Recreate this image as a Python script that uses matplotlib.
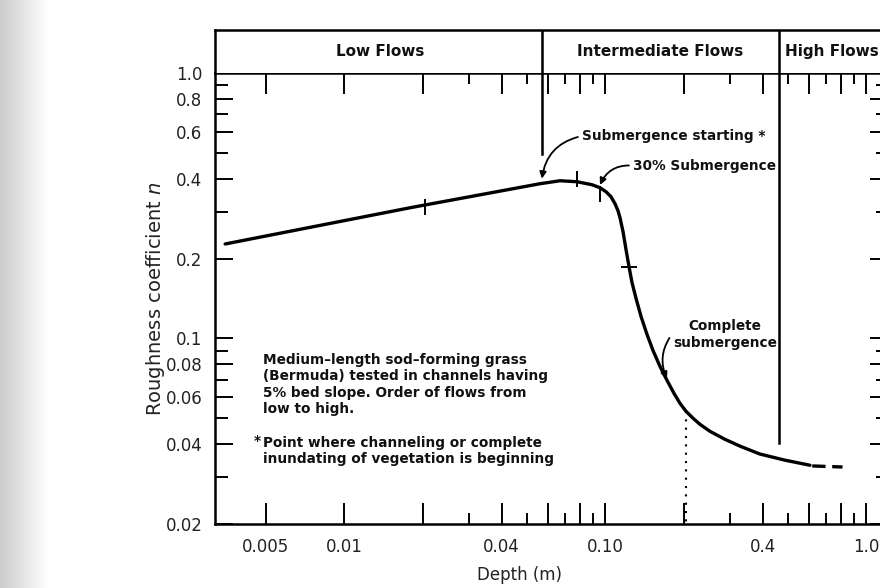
import numpy as np
import matplotlib
matplotlib.use("Agg")
import matplotlib.pyplot as plt
from matplotlib.ticker import FixedLocator, FixedFormatter, NullFormatter

# curve (depth in m, roughness n)
depth = [0.00349, 0.0179, 0.0561, 0.0670, 0.0778, 0.0888, 0.0953, 0.1005, 0.1050,
         0.1088, 0.1117, 0.1137, 0.1168, 0.1199, 0.1231, 0.1264, 0.1310, 0.1369,
         0.1443, 0.1521, 0.1618, 0.1721, 0.1830, 0.1930, 0.2035, 0.2164, 0.2302,
         0.2515, 0.2871, 0.3278, 0.3909, 0.4874, 0.6078]
rough = [0.227, 0.311, 0.3828, 0.3928, 0.3895, 0.3795, 0.3698, 0.3572, 0.3420,
         0.3220, 0.3030, 0.2851, 0.2526, 0.2162, 0.1866, 0.1625, 0.1415, 0.1211,
         0.1036, 0.0902, 0.0785, 0.0696, 0.0622, 0.0570, 0.0532, 0.0501, 0.0475,
         0.0447, 0.0417, 0.0393, 0.0367, 0.0348, 0.0333]
ext_depth = [0.62, 0.81]
ext_rough = [0.0331, 0.0328]

# small cross marks drawn on the curve
vmark_x = [0.0204, 0.0778, 0.0953]
vmark_y = [0.313, 0.40, 0.351]
hmark_x = [0.1231]
hmark_y = [0.1866]

# flow regime boundaries (depth) and how far down they reach (n)
regime_labels = ["Low Flows", "Intermediate Flows", "High Flows"]
regime_label_x = [0.01368, 0.1618, 0.487]
regime_bounds = [0.0571, 0.462]
bound_bottom = [0.497, 0.0403]

x_major = [0.005, 0.01, 0.02, 0.04, 0.06, 0.08, 0.1, 0.2, 0.4, 0.6, 0.8, 1.0]
x_labels = ["0.005", "0.01", "", "0.04", "", "", "0.10", "", "0.4", "", "", "1.0"]
x_minor = [0.03, 0.05, 0.07, 0.09, 0.3, 0.5, 0.7, 0.9]
y_major = [0.02, 0.04, 0.06, 0.08, 0.1, 0.2, 0.4, 0.6, 0.8, 1.0]
y_labels = ["0.02", "0.04", "0.06", "0.08", "0.1", "0.2", "0.4", "0.6", "0.8", "1.0"]
y_minor = [0.03, 0.05, 0.07, 0.09, 0.3, 0.5, 0.7, 0.9]

plt.rcParams["font.family"] = "DejaVu Sans"

fig = plt.figure(figsize=(8.8, 5.88), dpi=100)

# faint scanner shadow on the left edge
bg = fig.add_axes([0, 0, 0.055, 1])
bg.imshow(np.linspace(0.80, 1.0, 50)[None, :], cmap="gray", vmin=0, vmax=1,
          aspect="auto", extent=[0, 1, 0, 1])
bg.axis("off")

ax = fig.add_axes([0.2443, 0.1088, 0.7648, 0.767])
ax.set_xscale("log")
ax.set_yscale("log")
ax.set_xlim(0.00319, 1.21)
ax.set_ylim(0.02, 1.0)

ax.plot(depth, rough, color="black", lw=2.4, solid_capstyle="round",
        solid_joinstyle="round")
ax.plot(ext_depth, ext_rough, color="black", lw=2.4, dashes=(4, 2))
ax.plot(vmark_x, vmark_y, ls="none", marker="|", ms=12, mew=1.4, color="black")
ax.plot(hmark_x, hmark_y, ls="none", marker="_", ms=11, mew=1.4, color="black")
ax.plot([0.2035, 0.2035], [0.0532, 0.02], color="black", lw=1.5, ls=(0, (1, 3)))

for xb, yb in zip(regime_bounds, bound_bottom):
    ax.plot([xb, xb], [1.0, yb], color="black", lw=1.8)

ax.xaxis.set_major_locator(FixedLocator(x_major))
ax.xaxis.set_major_formatter(FixedFormatter(x_labels))
ax.xaxis.set_minor_locator(FixedLocator(x_minor))
ax.xaxis.set_minor_formatter(NullFormatter())
ax.yaxis.set_major_locator(FixedLocator(y_major))
ax.yaxis.set_major_formatter(FixedFormatter(y_labels))
ax.yaxis.set_minor_locator(FixedLocator(y_minor))
ax.yaxis.set_minor_formatter(NullFormatter())
ax.tick_params(which="both", direction="in", top=True, right=True, width=1.4,
               labelsize=12, labelcolor="#222222")
ax.tick_params(axis="x", which="major", length=15, pad=10)
ax.tick_params(axis="x", which="minor", length=8)
ax.tick_params(axis="y", which="major", length=13, pad=9)
ax.tick_params(axis="y", which="minor", length=9)
for s in ax.spines.values():
    s.set_linewidth(1.8)

ax.set_xlabel("Depth (m)", fontsize=12, color="#222222")
ax.xaxis.set_label_coords(0.452, -0.093)
ax.set_ylabel("Roughness coefficient $\\it{n}$", fontsize=14, color="#222222")
ax.yaxis.set_label_coords(-0.072, 0.5)

# annotations
note = dict(fontsize=9.8, fontweight="bold", color="#111111")
ax.annotate("Submergence starting *", xy=(0.0571, 0.40), xytext=(0.0813, 0.579),
            va="center", ha="left", **note,
            arrowprops=dict(arrowstyle="-|>", color="black", lw=1.3,
                            relpos=(0, 0.5), shrinkA=1, shrinkB=0,
                            connectionstyle="arc3,rad=0.35"))
ax.annotate("30% Submergence", xy=(0.0953, 0.379), xytext=(0.1276, 0.448),
            va="center", ha="left", **note,
            arrowprops=dict(arrowstyle="-|>", color="black", lw=1.3,
                            relpos=(0, 0.5), shrinkA=1, shrinkB=0,
                            connectionstyle="arc3,rad=0.35"))
ax.annotate("Complete\nsubmergence", xy=(0.1721, 0.0705), xytext=(0.287, 0.1035),
            va="center", ha="center", multialignment="center", **note,
            arrowprops=dict(arrowstyle="-|>", color="black", lw=1.3,
                            relpos=(0, 0.55), shrinkA=1, shrinkB=0,
                            connectionstyle="arc3,rad=0.3"))
ax.text(0.00488, 0.088,
        "Medium\u2013length sod\u2013forming grass\n(Bermuda) tested in channels having\n"
        "5% bed slope. Order of flows from\nlow to high.", va="top", ha="left", **note)
ax.text(0.00447, 0.0435, "*", va="top", ha="left", **note)
ax.text(0.00488, 0.0429,
        "Point where channeling or complete\ninundating of vegetation is beginning",
        va="top", ha="left", **note)

# regime band above the plot
band = fig.add_axes([0.2443, 0.8759, 0.7648, 0.0731])
band.set_xscale("log")
band.set_xlim(ax.get_xlim())
band.set_ylim(0, 1)
band.set_xticks([])
band.set_yticks([])
band.minorticks_off()
band.spines["bottom"].set_visible(False)
for s in ["left", "top", "right"]:
    band.spines[s].set_linewidth(1.8)
for xb in regime_bounds:
    band.axvline(xb, color="black", lw=1.8)
for lab, lx, ha in zip(regime_labels, regime_label_x, ["center", "center", "left"]):
    band.text(lx, 0.5, lab, ha=ha, va="center", fontsize=11, fontweight="bold",
              color="#111111")

fig.savefig("out.png", dpi=100)
